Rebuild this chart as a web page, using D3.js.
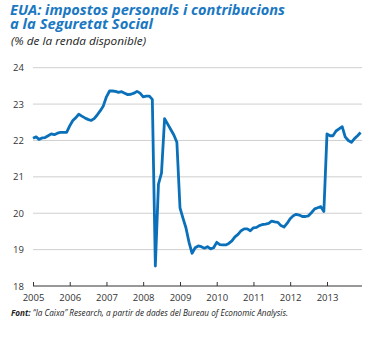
<!DOCTYPE html>
<html>
<head>
<meta charset="utf-8">
<script src="https://cdn.jsdelivr.net/npm/d3@7"></script>
<style>
  body { margin: 0; background: #fff; }
  text { font-family: "Open Sans", "Noto Sans", sans-serif; }
</style>
</head>
<body>
<script>
const width = 382;
const height = 338;

// monthly series, Jan 2005 .. Dec 2013
const startMonth = new Date(2005, 0, 1);
const values = [
  22.06, 22.10, 22.03, 22.07, 22.08, 22.13, 22.18, 22.16, 22.20, 22.22, 22.22, 22.22,
  22.40, 22.55, 22.62, 22.72, 22.67, 22.62, 22.58, 22.55, 22.60, 22.70, 22.82, 22.95,
  23.20, 23.36, 23.36, 23.35, 23.32, 23.34, 23.30, 23.26, 23.27, 23.30, 23.35, 23.30,
  23.20, 23.22, 23.22, 23.13, 18.55, 20.80, 21.10, 22.60, 22.45, 22.30, 22.15, 21.95,
  20.15, 19.85, 19.60, 19.20, 18.90, 19.05, 19.10, 19.08, 19.04, 19.08, 19.02, 19.05,
  19.20, 19.14, 19.13, 19.13, 19.17, 19.24, 19.35, 19.42, 19.52, 19.57, 19.57, 19.52,
  19.60, 19.61, 19.66, 19.69, 19.70, 19.72, 19.78, 19.76, 19.75, 19.66, 19.62, 19.72,
  19.85, 19.93, 19.97, 19.95, 19.91, 19.91, 19.93, 20.02, 20.12, 20.15, 20.18, 20.05,
  22.18, 22.13, 22.13, 22.26, 22.32, 22.38, 22.10, 22.00, 21.95, 22.05, 22.13, 22.22
];
const yTicks = [18, 19, 20, 21, 22, 23, 24];
const xTickYears = [2005, 2006, 2007, 2008, 2009, 2010, 2011, 2012, 2013];

const data = values.map((v, i) => ({
  date: d3.timeMonth.offset(startMonth, i),
  value: v,
}));

const svg = d3
  .select("body")
  .append("svg")
  .attr("width", width)
  .attr("height", height);

const x = d3
  .scaleTime()
  .domain([new Date(2005, 0, 1), new Date(2013, 11, 15)])
  .range([33, 362]);

const y = d3.scaleLinear().domain([18, 24]).range([286, 67.7]);

// title
const blue = "#1a78c2";
svg
  .append("text")
  .attr("x", 10)
  .attr("y", 15)
  .attr("fill", blue)
  .attr("font-size", 15)
  .attr("font-weight", "bold")
  .attr("font-style", "italic")
  .attr("textLength", 275)
  .attr("lengthAdjust", "spacingAndGlyphs")
  .text("EUA: impostos personals i contribucions");
svg
  .append("text")
  .attr("x", 10)
  .attr("y", 29)
  .attr("fill", blue)
  .attr("font-size", 15)
  .attr("font-weight", "bold")
  .attr("font-style", "italic")
  .attr("textLength", 143)
  .attr("lengthAdjust", "spacingAndGlyphs")
  .text("a la Seguretat Social");
svg
  .append("text")
  .attr("x", 11)
  .attr("y", 44.5)
  .attr("fill", "#222")
  .attr("font-size", 11.5)
  .attr("font-style", "italic")
  .attr("textLength", 135)
  .attr("lengthAdjust", "spacingAndGlyphs")
  .text("(% de la renda disponible)");

// grid lines
svg
  .append("g")
  .selectAll("line")
  .data(yTicks.filter((d) => d > 18))
  .join("line")
  .attr("x1", 33)
  .attr("x2", 362)
  .attr("y1", (d) => y(d))
  .attr("y2", (d) => y(d))
  .attr("stroke", "#cfcfcf")
  .attr("stroke-width", 1);

// y labels
svg
  .append("g")
  .selectAll("text")
  .data(yTicks)
  .join("text")
  .attr("x", 13)
  .attr("y", (d) => y(d) + 3.5)
  .attr("font-size", 9.5)
  .attr("fill", "#333")
  .text((d) => d);

// x axis
const xAxis = d3
  .axisBottom(x)
  .tickValues(xTickYears.map((yr) => new Date(yr, 0, 1)))
  .tickFormat(d3.timeFormat("%Y"))
  .tickSize(-4)
  .tickPadding(8);

const gx = svg
  .append("g")
  .attr("transform", `translate(0,${y(18)})`)
  .call(xAxis);
gx.select(".domain").attr("stroke", "#333").attr("d", "M33,0H362");
gx.selectAll(".tick line").attr("stroke", "#333");
gx.selectAll(".tick text")
  .attr("font-size", 9.5)
  .attr("fill", "#333");

// series line
const line = d3
  .line()
  .x((d) => x(d.date))
  .y((d) => y(d.value));

svg
  .append("path")
  .datum(data)
  .attr("fill", "none")
  .attr("stroke", "#0a70b9")
  .attr("stroke-width", 2.8)
  .attr("stroke-linejoin", "round")
  .attr("d", line);

// source
const src = svg
  .append("text")
  .attr("x", 11)
  .attr("y", 316)
  .attr("font-size", 8.5)
  .attr("font-style", "italic")
  .attr("fill", "#222")
  .attr("textLength", 277)
  .attr("lengthAdjust", "spacingAndGlyphs");
src.append("tspan").attr("font-weight", "bold").text("Font: ");
src
  .append("tspan")
  .text("“la Caixa” Research, a partir de dades del Bureau of Economic Analysis.");
</script>
</body>
</html>
